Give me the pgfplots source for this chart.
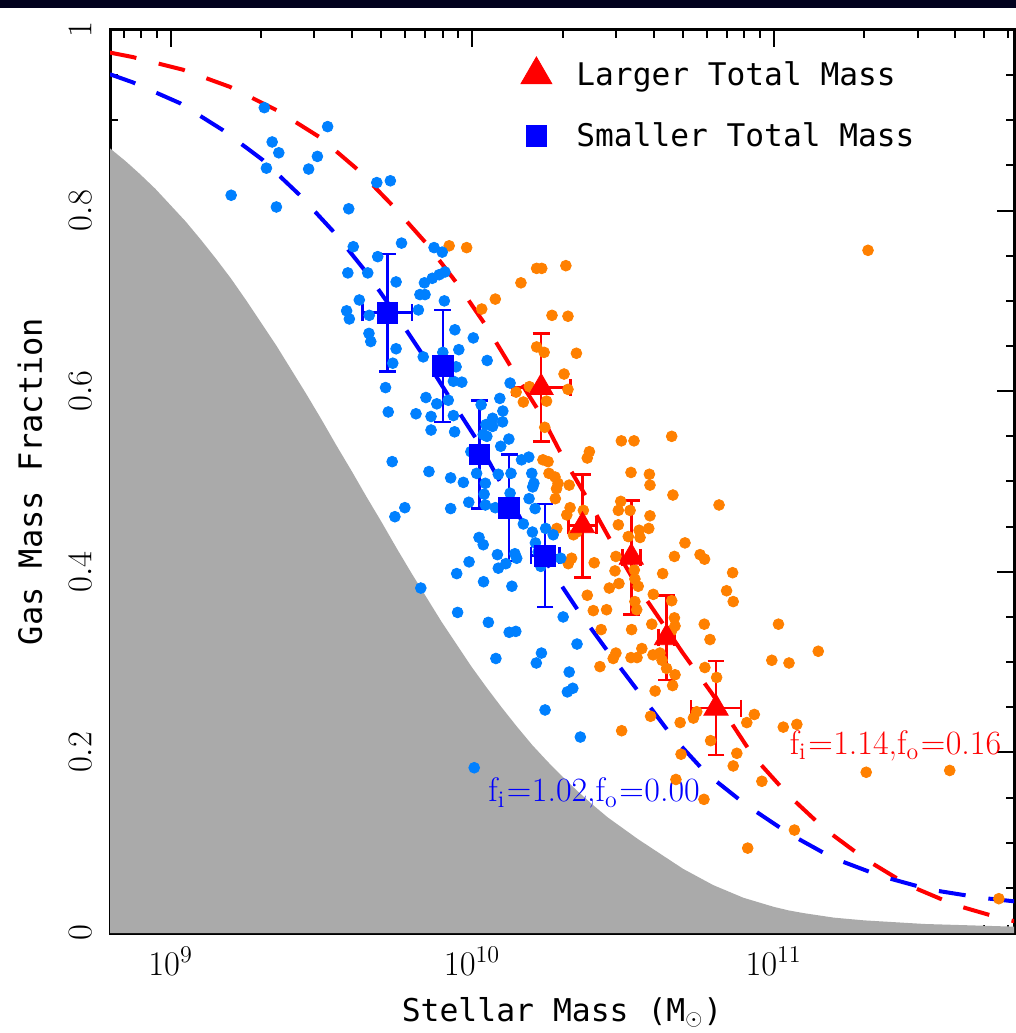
\documentclass[border=0pt]{standalone}
\usepackage{fontspec}
\setmonofont{DejaVu Sans Mono}
\usepackage{pgfplots}
\usepackage{pgfplotstable}
\pgfplotsset{compat=1.18}
\definecolor{ptblue}{RGB}{0,128,255}
\definecolor{ptorange}{RGB}{255,128,0}
\definecolor{shade}{RGB}{170,170,170}
\definecolor{band}{RGB}{2,2,30}

\pgfplotstableread{
lm y
8.799 0.869
8.85 0.855
8.9 0.840
8.95 0.824
9.0 0.806
9.05 0.788
9.1 0.768
9.15 0.747
9.2 0.725
9.25 0.701
9.3 0.676
9.35 0.651
9.4 0.624
9.45 0.597
9.5 0.569
9.55 0.540
9.6 0.512
9.65 0.483
9.7 0.455
9.75 0.426
9.8 0.398
9.85 0.371
9.9 0.344
9.95 0.319
10.0 0.294
10.05 0.271
10.1 0.249
10.15 0.228
10.2 0.208
10.25 0.190
10.3 0.173
10.35 0.157
10.4 0.142
10.45 0.128
10.5 0.116
10.55 0.104
10.6 0.093
10.65 0.082
10.7 0.071
10.75 0.062
10.8 0.053
10.85 0.046
10.9 0.039
10.95 0.034
11.0 0.029
11.05 0.025
11.1 0.022
11.2 0.017
11.3 0.014
11.4 0.012
11.5 0.010
11.6 0.009
11.7 0.008
11.8 0.007
}\shadedata

\pgfplotstableread{
lm y
8.799 0.975
8.875 0.970
9.041 0.956
9.197 0.937
9.353 0.911
9.496 0.881
9.622 0.845
9.738 0.805
9.850 0.763
9.953 0.718
10.049 0.671
10.136 0.623
10.225 0.576
10.301 0.527
10.384 0.480
10.467 0.430
10.550 0.383
10.646 0.336
10.699 0.310
10.796 0.265
10.932 0.196
11.048 0.153
11.170 0.115
11.303 0.082
11.446 0.053
11.602 0.031
11.757 0.016
11.800 0.013
}\redcurve

\pgfplotstableread{
lm y
8.799 0.951
8.875 0.942
9.031 0.919
9.174 0.889
9.306 0.856
9.429 0.817
9.545 0.775
9.651 0.731
9.745 0.686
9.837 0.640
9.927 0.592
10.016 0.546
10.099 0.496
10.182 0.446
10.268 0.399
10.358 0.354
10.441 0.316
10.557 0.265
10.663 0.218
10.776 0.177
10.908 0.142
11.051 0.110
11.197 0.083
11.356 0.063
11.519 0.048
11.688 0.039
11.800 0.035
}\bluecurve

\pgfplotstableread{
lm y
9.311 0.914
9.521 0.893
9.337 0.876
9.359 0.864
9.487 0.860
9.318 0.847
9.458 0.846
9.684 0.831
9.729 0.833
9.201 0.817
9.351 0.804
9.591 0.802
9.606 0.760
9.766 0.764
9.874 0.759
9.901 0.754
9.687 0.749
9.588 0.731
9.654 0.731
9.748 0.721
9.842 0.720
9.868 0.725
9.891 0.729
9.910 0.732
9.626 0.701
9.827 0.707
9.844 0.707
9.908 0.700
9.584 0.689
9.593 0.680
9.659 0.684
9.822 0.690
9.658 0.664
9.664 0.655
9.748 0.647
9.943 0.668
9.737 0.631
10.004 0.659
9.956 0.646
10.050 0.634
9.838 0.638
9.947 0.627
9.713 0.604
9.938 0.611
9.966 0.610
9.847 0.593
9.883 0.586
9.921 0.590
9.722 0.577
9.814 0.575
9.864 0.572
9.938 0.573
9.864 0.557
9.942 0.555
10.092 0.592
10.030 0.585
10.102 0.578
10.068 0.570
10.046 0.563
10.068 0.561
10.101 0.566
10.037 0.552
10.049 0.550
10.122 0.547
10.095 0.539
9.996 0.533
10.164 0.524
10.188 0.527
9.735 0.522
9.857 0.511
9.929 0.504
9.971 0.499
10.015 0.509
10.044 0.498
10.087 0.508
10.129 0.509
10.198 0.509
10.205 0.498
10.201 0.494
10.040 0.486
10.126 0.487
10.189 0.481
9.989 0.477
10.044 0.474
9.777 0.471
9.744 0.461
9.929 0.470
10.077 0.471
10.209 0.470
10.126 0.609
10.023 0.438
10.037 0.430
9.990 0.411
10.084 0.419
10.087 0.404
10.112 0.409
10.142 0.420
10.148 0.415
10.200 0.444
10.170 0.453
10.210 0.432
10.244 0.448
10.269 0.441
10.294 0.415
10.228 0.406
9.949 0.398
10.038 0.389
10.132 0.384
9.830 0.382
9.952 0.355
10.054 0.344
10.123 0.333
10.145 0.334
10.302 0.350
10.348 0.320
10.079 0.304
10.230 0.310
10.213 0.299
10.322 0.289
10.334 0.271
10.316 0.267
10.242 0.247
10.359 0.217
10.007 0.183
9.903 0.643
10.219 0.422
}\bluedots

\pgfplotstableread{
lm y
9.924 0.761
9.982 0.759
10.214 0.736
10.231 0.736
10.311 0.739
10.162 0.720
10.077 0.702
10.032 0.691
10.265 0.684
10.318 0.683
10.214 0.649
10.239 0.643
10.346 0.642
10.305 0.619
10.190 0.605
10.146 0.599
10.170 0.588
10.247 0.589
10.318 0.602
10.241 0.560
10.495 0.545
10.537 0.545
10.662 0.550
10.389 0.533
10.382 0.526
10.235 0.524
10.252 0.522
10.255 0.509
10.275 0.505
10.285 0.498
10.322 0.496
10.280 0.492
10.276 0.481
10.527 0.510
10.588 0.508
10.590 0.496
10.666 0.485
10.819 0.474
10.493 0.478
10.524 0.468
10.485 0.468
10.325 0.471
10.314 0.463
10.369 0.468
10.590 0.462
10.485 0.452
10.554 0.446
10.557 0.438
10.586 0.448
10.281 0.448
10.336 0.441
10.347 0.444
10.518 0.439
10.706 0.432
10.671 0.417
10.756 0.419
10.771 0.414
10.477 0.417
10.330 0.415
10.319 0.409
10.405 0.410
10.474 0.401
10.538 0.402
10.540 0.392
10.487 0.387
10.455 0.382
10.551 0.384
10.632 0.398
10.864 0.399
10.844 0.379
10.866 0.367
10.601 0.375
10.382 0.374
10.662 0.368
10.540 0.367
10.546 0.358
10.402 0.357
10.446 0.358
10.596 0.342
10.671 0.349
10.673 0.340
10.662 0.335
10.770 0.342
10.529 0.336
10.428 0.336
10.789 0.325
11.016 0.342
10.563 0.315
10.477 0.310
10.527 0.305
10.547 0.305
10.468 0.304
10.600 0.308
10.623 0.310
10.630 0.302
10.645 0.293
10.673 0.286
10.424 0.295
10.772 0.294
10.811 0.283
10.665 0.274
10.607 0.268
10.994 0.302
11.051 0.299
11.148 0.312
10.592 0.240
10.745 0.245
10.734 0.238
10.690 0.233
10.936 0.242
10.911 0.233
10.496 0.224
11.032 0.228
11.077 0.231
10.791 0.213
10.878 0.199
10.693 0.198
10.866 0.185
10.961 0.168
10.676 0.170
10.769 0.148
11.069 0.114
10.914 0.094
11.307 0.178
11.584 0.180
11.747 0.038
11.313 0.756
}\orangedots

\pgfplotstableread{
lm y ex ey
9.719 0.687 0.082 0.065
9.903 0.628 0.010 0.062
10.024 0.530 0.010 0.060
10.123 0.471 0.010 0.059
10.242 0.418 0.047 0.057
}\bluesq

\pgfplotstableread{
lm y ex ey
10.229 0.604 0.097 0.060
10.366 0.451 0.047 0.057
10.528 0.416 0.030 0.063
10.645 0.327 0.027 0.047
10.809 0.249 0.083 0.052
}\redtri

\begin{document}
\begin{tikzpicture}
\path[use as bounding box] (-55pt,-50pt) rectangle (453pt,466.5pt);
\fill[band] (-55pt,462.35pt) rectangle (453pt,466.5pt);
\begin{axis}[
  scale only axis, width=452pt, height=451.5pt,
  xmode=log, xmin=6.30e8, xmax=6.27e11, ymin=0, ymax=1,
  axis line style={line width=1.5pt},
  tick style={black, line width=1pt},
  major tick length=8.5pt, minor tick length=4pt,
  tick align=inside,
  xtick={1e9,1e10,1e11},
  xticklabels={$10^{9}$,$10^{10}$,$10^{11}$},
  minor xtick={7e8,8e8,9e8,2e9,3e9,4e9,5e9,6e9,7e9,8e9,9e9,2e10,3e10,4e10,5e10,6e10,7e10,8e10,9e10,2e11,3e11,4e11,5e11,6e11},
  ytick={0,0.2,0.4,0.6,0.8,1},
  minor ytick={0.05,0.1,0.15,0.25,0.3,0.35,0.45,0.5,0.55,0.65,0.7,0.75,0.85,0.9,0.95},
  ticklabel style={font=\fontsize{17}{20}\selectfont},
  xticklabel style={anchor=base, yshift=-21pt},
  yticklabel style={xshift=-5.8pt, rotate=90, anchor=south},
  every axis x label/.style={at={(axis description cs:0.5,0)}, anchor=base, yshift=-44.3pt},
  every axis y label/.style={at={(axis description cs:-0.0885,0.5)}, rotate=90, anchor=center},
  xlabel={\ttfamily\fontsize{15.7}{18}\selectfont Stellar Mass (M$_{\odot}$)},
  ylabel={\ttfamily\fontsize{16}{18}\selectfont Gas Mass Fraction},
  legend image code/.code={\draw[#1] plot coordinates {(0pt,0pt)}; \path[draw=none,fill=none] (-9pt,-6pt) rectangle (18pt,6pt);},
  legend style={draw=none, fill=none, inner sep=0pt, row sep=13pt,
    font=\ttfamily\fontsize{15.6}{18}\selectfont,
    at={(rel axis cs:0.4513,0.9706)}, anchor=north west},
  legend cell align=left,
]
\addplot[fill=shade, draw=none, forget plot] table[x expr={10^(\thisrow{lm})}, y=y] {\shadedata} \closedcycle;
\addplot[only marks, mark=*, mark size=2.7pt, color=ptorange, mark options={draw=none}, forget plot]
  table[x expr={10^(\thisrow{lm})}, y=y] {\orangedots};
\addplot[only marks, mark=*, mark size=2.7pt, color=ptblue, mark options={draw=none}, forget plot]
  table[x expr={10^(\thisrow{lm})}, y=y] {\bluedots};
\addplot[red, line width=2pt, dash pattern=on 13.5pt off 11.5pt, no markers, forget plot]
  table[x expr={10^(\thisrow{lm})}, y=y] {\redcurve};
\addplot[blue, line width=2pt, dash pattern=on 13.5pt off 11.5pt, no markers, forget plot]
  table[x expr={10^(\thisrow{lm})}, y=y] {\bluecurve};
\addplot[blue, only marks, mark=square*, mark size=5.2pt, forget plot,
  error bars/.cd, x dir=both, x explicit, y dir=both, y explicit,
  error bar style={line width=1.3pt, solid},
  error mark options={rotate=90, line width=1.3pt, mark size=4.2pt}]
  table[x expr={10^(\thisrow{lm})}, y=y,
        x error plus expr={10^(\thisrow{lm}+\thisrow{ex})-10^(\thisrow{lm})},
        x error minus expr={10^(\thisrow{lm})-10^(\thisrow{lm}-\thisrow{ex})},
        y error=ey] {\bluesq};
\addplot[red, only marks, mark=triangle*, mark size=7pt, forget plot,
  error bars/.cd, x dir=both, x explicit, y dir=both, y explicit,
  error bar style={line width=1.3pt, solid},
  error mark options={rotate=90, line width=1.3pt, mark size=4.2pt}]
  table[x expr={10^(\thisrow{lm})}, y=y,
        x error plus expr={10^(\thisrow{lm}+\thisrow{ex})-10^(\thisrow{lm})},
        x error minus expr={10^(\thisrow{lm})-10^(\thisrow{lm}-\thisrow{ex})},
        y error=ey] {\redtri};
\addlegendimage{mark=triangle*, color=red, mark size=8.9pt}
\addlegendentry{Larger Total Mass}
\addlegendimage{mark=square*, color=blue, mark size=5.2pt}
\addlegendentry{Smaller Total Mass}
\node[blue, anchor=base west, inner sep=0pt, font=\fontsize{17}{20}\selectfont] at (axis cs:1.129e10,0.1451) {$\mathrm{f_i}$\kern0.8pt=\kern0.3pt1.02,$\mathrm{f_o}$\kern0.8pt=\kern0.3pt0.00};
\node[red, anchor=base west, inner sep=0pt, font=\fontsize{17}{20}\selectfont] at (axis cs:1.128e11,0.1982) {$\mathrm{f_i}$\kern0.8pt=\kern0.3pt1.14,$\mathrm{f_o}$\kern0.8pt=\kern0.3pt0.16};
\end{axis}
\end{tikzpicture}
\end{document}
